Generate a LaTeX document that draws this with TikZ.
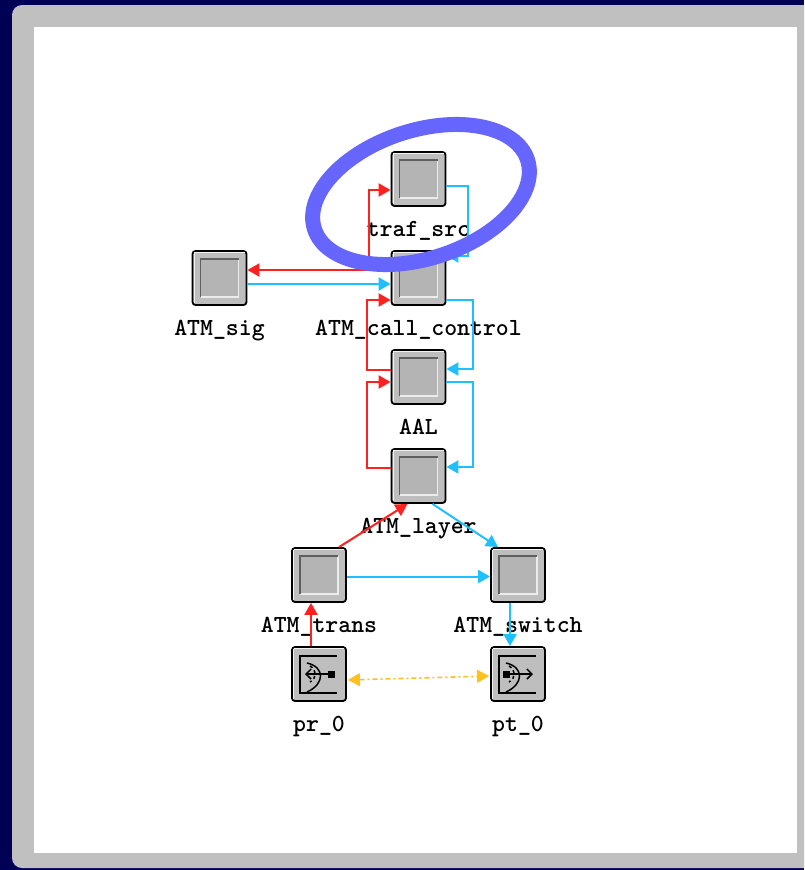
\documentclass[tikz,border=0pt]{standalone}
\usetikzlibrary{arrows.meta}
\definecolor{navyback}{HTML}{000055}
\definecolor{panelgray}{HTML}{C0C0C0}
\definecolor{boxgray}{HTML}{BEBEBE}
\definecolor{innergray}{HTML}{B4B4B4}
\definecolor{wirered}{HTML}{FF2020}
\definecolor{wireblue}{HTML}{20C0FF}
\definecolor{wireorange}{HTML}{FFC020}
\definecolor{ringblue}{HTML}{6666FF}
\begin{document}
\begin{tikzpicture}[x=1pt, y=-1pt]
        \tikzstyle{modbox}=[draw=black, line width=1.8pt, rounded corners=3pt, fill=boxgray, inner sep=0pt, minimum width=54pt, minimum height=54pt]
        \tikzstyle{modlabel}=[font=\fontsize{24.6}{26}\selectfont\ttfamily\bfseries, inner sep=0pt, text height=13pt, text depth=5pt, label distance=16pt]
        \tikzstyle{redwire}=[draw=wirered, line width=2pt, -{Triangle[length=12pt,width=13pt]}]
        \tikzstyle{bluewire}=[draw=wireblue, line width=2pt, -{Triangle[length=12pt,width=13pt]}]
        \tikzstyle{radiowire}=[draw=wireorange, line width=1.6pt, dash pattern=on 5pt off 3pt on 2pt off 3pt, {Triangle[length=12pt,width=13pt]}-{Triangle[length=12pt,width=13pt]}]
        \tikzstyle{icon}=[draw=black, line width=1.5pt]

        \useasboundingbox (0,0) rectangle (804,870);
        \clip (0,0) rectangle (804,870);
        \fill[navyback] (0,0) rectangle (804,870);
        \fill[panelgray, rounded corners=10pt] (12,5) rectangle (830,868);
        \fill[white] (34,27) rectangle (797,853);

        \node (traf)[modbox, label={[modlabel]below:traf\_src}] at (418.5,179) {};
        \node (sig)[modbox, label={[modlabel]below:ATM\_sig}] at (219.5,278) {};
        \node (call)[modbox, label={[modlabel]below:ATM\_call\_control}] at (418.5,278) {};
        \node (aal)[modbox, label={[modlabel]below:AAL}] at (418.5,377) {};
        \node (layer)[modbox, label={[modlabel]below:ATM\_layer}] at (418.5,476) {};
        \node (trans)[modbox, label={[modlabel]below:ATM\_trans}] at (319,575) {};
        \node (switch)[modbox, label={[modlabel]below:ATM\_switch}] at (518,575) {};
        \node (pr)[modbox, label={[modlabel]below:pr\_0}] at (319,674) {};
        \node (pt)[modbox, label={[modlabel]below:pt\_0}] at (518,674) {};

        % bevels
        \foreach \n in {traf,sig,call,aal,layer,trans,switch,pr,pt} {
            \draw[white!80!boxgray, line width=1.2pt] ([shift={(2.5pt,-2.5pt)}]\n.north west) -- ([shift={(-2.5pt,-2.5pt)}]\n.north east);
            \draw[white!80!boxgray, line width=1.2pt] ([shift={(2.5pt,-2.5pt)}]\n.north west) -- ([shift={(2.5pt,2.5pt)}]\n.south west);
        }
        \foreach \n in {traf,sig,call,aal,layer,trans,switch} {
            \fill[innergray] ([shift={(-19pt,-19pt)}]\n.center) rectangle ([shift={(19pt,19pt)}]\n.center);
            \draw[white!70!boxgray, line width=1.2pt] ([shift={(-19pt,-19pt)}]\n.center) -| ([shift={(19pt,19pt)}]\n.center);
            \draw[black!50!boxgray, line width=1.2pt] ([shift={(-19pt,-19pt)}]\n.center) |- ([shift={(19pt,19pt)}]\n.center);
        }

        % antenna icons
        \foreach \n in {pr,pt} {
            \draw[icon] ([shift={(18pt,18pt)}]\n.center) -- ([shift={(-19pt,18pt)}]\n.center) -- ([shift={(-19pt,-19pt)}]\n.center) -- ([shift={(18pt,-19pt)}]\n.center);
            \draw[icon] ([shift={(-12pt,11pt)}]\n.center) .. controls ([shift={(6pt,7pt)}]\n.center) and ([shift={(6pt,-10pt)}]\n.center) .. ([shift={(-12pt,-18pt)}]\n.center);
            \draw[icon, dashed] ([shift={(-9pt,8pt)}]\n.center) .. controls ([shift={(-2pt,4pt)}]\n.center) and ([shift={(-2pt,-4pt)}]\n.center) .. ([shift={(-9pt,-8pt)}]\n.center);
        }
        \fill ([xshift=12pt]pr.center) ++(-3.5,-3.5) rectangle ++(7,7);
        \fill ([xshift=-12pt]pt.center) ++(-3.5,-3.5) rectangle ++(7,7);
        \draw[icon, -{Straight Barb[length=5pt,width=10pt]}] ([xshift=12pt]pr.center) -- ([xshift=-14pt]pr.center);
        \draw[icon, -{Straight Barb[length=5pt,width=10pt]}] ([xshift=-12pt]pt.center) -- ([xshift=15pt]pt.center);

        \draw[redwire] ([yshift=8pt]call.west) -- (sig.east |- 0,270);
        \draw[bluewire] (sig.east |- 0,284) -- ([yshift=-6pt]call.west);
        \draw[redwire] ([yshift=8pt]call.west) -- ++(-22,0) |- ([yshift=-11pt]traf.west);
        \draw[bluewire] ([yshift=-7pt]traf.east) -- ++(22,0) |- ([yshift=22pt]call.east);
        \draw[redwire] ([yshift=7pt]aal.west) -- ++(-24,0) |- ([yshift=-22pt]call.west);
        \draw[bluewire] ([yshift=-22pt]call.east) -- ++(27,0) |- ([yshift=8pt]aal.east);
        \draw[redwire] ([yshift=8pt]layer.west) -- ++(-24,0) |- ([yshift=-5pt]aal.west);
        \draw[bluewire] ([yshift=-5pt]aal.east) -- ++(27,0) |- ([yshift=9pt]layer.east);
        \draw[redwire] ([xshift=20pt]trans.north) -- ([xshift=-11pt]layer.south);
        \draw[bluewire] ([xshift=14pt]layer.south) -- ([xshift=-20pt]switch.north);
        \draw[bluewire] ([yshift=-1.5pt]trans.east) -- ([yshift=-1.5pt]switch.west);
        \draw[bluewire] ([xshift=-8pt]switch.south) -- ([xshift=-8pt]pt.north);
        \draw[redwire] ([xshift=-8pt]pr.north) -- ([xshift=-8pt]trans.south);
        \draw[radiowire] ([shift={(1pt,-6pt)}]pr.east) -- ([shift={(-1pt,-2pt)}]pt.west);

        \draw[draw=ringblue, line width=15pt] (421,194.5) ellipse [x radius=112, y radius=64, rotate=18];
    \end{tikzpicture}
\end{document}
